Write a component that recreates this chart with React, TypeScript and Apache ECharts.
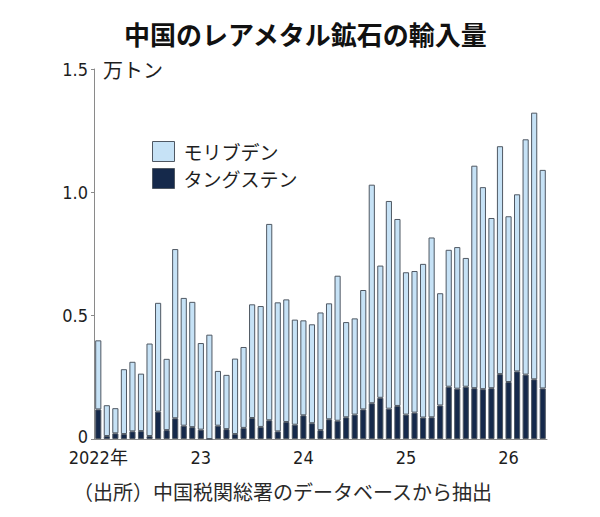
import React, { useEffect, useRef } from "react";
import * as echarts from "echarts";

// Monthly imports, 10,000 tonnes (万トン), Jan 2022 – May 2026
const months = [
  "2022-01", "2022-02", "2022-03", "2022-04", "2022-05", "2022-06", "2022-07", "2022-08", "2022-09", "2022-10", "2022-11", "2022-12",
  "2023-01", "2023-02", "2023-03", "2023-04", "2023-05", "2023-06", "2023-07", "2023-08", "2023-09", "2023-10", "2023-11", "2023-12",
  "2024-01", "2024-02", "2024-03", "2024-04", "2024-05", "2024-06", "2024-07", "2024-08", "2024-09", "2024-10", "2024-11", "2024-12",
  "2025-01", "2025-02", "2025-03", "2025-04", "2025-05", "2025-06", "2025-07", "2025-08", "2025-09", "2025-10", "2025-11", "2025-12",
  "2026-01", "2026-02", "2026-03", "2026-04", "2026-05",
];

const tungsten = [
  0.12, 0.012, 0.023, 0.02, 0.031, 0.032, 0.012, 0.111, 0.036, 0.084, 0.054, 0.048,
  0.038, 0.0, 0.054, 0.04, 0.02, 0.045, 0.085, 0.049, 0.076, 0.031, 0.069, 0.058,
  0.096, 0.064, 0.036, 0.08, 0.074, 0.088, 0.099, 0.12, 0.145, 0.167, 0.123, 0.134,
  0.099, 0.107, 0.087, 0.088, 0.136, 0.212, 0.204, 0.212, 0.206, 0.202, 0.206, 0.263,
  0.231, 0.274, 0.261, 0.242, 0.205,
];

const molybdenum = [
  0.28, 0.125, 0.102, 0.263, 0.282, 0.233, 0.375, 0.441, 0.289, 0.686, 0.518, 0.508,
  0.351, 0.423, 0.222, 0.22, 0.306, 0.328, 0.461, 0.49, 0.796, 0.523, 0.497, 0.426,
  0.385, 0.401, 0.477, 0.47, 0.588, 0.386, 0.39, 0.484, 0.886, 0.536, 0.842, 0.758,
  0.577, 0.574, 0.623, 0.729, 0.455, 0.555, 0.574, 0.522, 0.902, 0.819, 0.69, 0.924,
  0.672, 0.718, 0.954, 1.081, 0.886,
];

const yearLabels = ["2022年", "23", "24", "25", "26"];
const yTicks = ["0", "0.5", "1.0", "1.5"];

const seriesNames = ["モリブデン", "タングステン"];
const colors = { molybdenum: "#c6e2f6", tungsten: "#15294b", border: "#4f5863", axis: "#8a8a8a", text: "#1e1e1e" };

const CJK = "'Noto Sans CJK JP', 'Noto Sans', sans-serif";
const NUM = "'Liberation Sans Narrow', 'DejaVu Sans Condensed', 'Noto Sans CJK JP', sans-serif";

export default function App() {
  const ref = useRef<HTMLDivElement>(null);

  useEffect(() => {
    if (!ref.current) return;
    const chart = echarts.init(ref.current, null, { renderer: "svg" });
    chart.setOption({
      animation: false,
      backgroundColor: "#ffffff",
      title: {
        text: "中国のレアメタル鉱石の輸入量",
        left: 119,
        top: 15,
        textStyle: { fontFamily: CJK, fontSize: 26, fontWeight: "bold", color: "#111" },
      },
      legend: {
        data: seriesNames,
        orient: "vertical",
        left: 147,
        top: 136,
        itemWidth: 22,
        itemHeight: 20,
        itemGap: 6,
        icon: "rect",
        itemStyle: { borderColor: colors.border, borderWidth: 1 },
        textStyle: { fontFamily: CJK, fontSize: 19, lineHeight: 20, color: colors.text, padding: [0, 0, 0, 4] },
      },
      grid: { left: 94, right: 53, top: 69, bottom: 78 },
      xAxis: {
        type: "category",
        data: months,
        axisLine: { lineStyle: { color: colors.axis, width: 1 } },
        axisTick: { show: false },
        axisLabel: {
          interval: (i: number) => i % 12 === 0,
          margin: 9,
          fontFamily: NUM,
          fontSize: 18,
          lineHeight: 18,
          color: colors.text,
          formatter: (_v: string, i: number) => yearLabels[Math.floor(i / 12)] ?? "",
        },
      },
      yAxis: {
        type: "value",
        min: 0,
        max: 1.5,
        interval: 0.5,
        splitLine: { show: false },
        axisLine: { show: true, lineStyle: { color: colors.axis, width: 1 } },
        axisTick: { show: true, length: 3, lineStyle: { color: colors.axis } },
        axisLabel: {
          margin: 6,
          fontFamily: NUM,
          fontSize: 18,
          lineHeight: 14,
          color: colors.text,
          formatter: (v: number) => {
            const t = yTicks[Math.round(v / 0.5)] ?? String(v);
            return v === 0 ? `{zero|${t}}` : t;
          },
          rich: {
            zero: { fontFamily: NUM, fontSize: 18, lineHeight: 14, color: colors.text, padding: [0, 0, 6, 0] },
          },
        },
      },
      graphic: [
        {
          type: "text",
          left: 103,
          top: 59,
          style: { text: "万トン", fontFamily: CJK, fontSize: 20, fill: colors.text },
        },
        {
          type: "text",
          left: 73,
          top: 481,
          style: { text: "（出所）中国税関総署のデータベースから抽出", fontFamily: CJK, fontSize: 20, fill: "#2a2a2a" },
        },
      ],
      series: [
        {
          name: "タングステン",
          type: "bar",
          stack: "total",
          data: tungsten,
          barWidth: "72%",
          itemStyle: { color: colors.tungsten, borderColor: colors.border, borderWidth: 1 },
        },
        {
          name: "モリブデン",
          type: "bar",
          stack: "total",
          data: molybdenum,
          barWidth: "72%",
          itemStyle: { color: colors.molybdenum, borderColor: colors.border, borderWidth: 1 },
        },
      ],
    });
    return () => chart.dispose();
  }, []);

  return <div ref={ref} style={{ width: 600, height: 517, margin: -8 }} />;
}
